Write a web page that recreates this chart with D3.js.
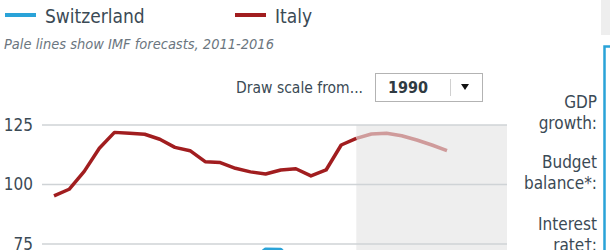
<!DOCTYPE html>
<html>
<head>
<meta charset="utf-8">
<script src="https://cdn.jsdelivr.net/npm/d3@7"></script>
<style>
  body { margin: 0; background: #fff; }
  svg { display: block; }
  text { font-family: "Liberation Sans Narrow", "DejaVu Sans Condensed", "Roboto", sans-serif; fill: #3b4a55; }
</style>
</head>
<body>
<svg id="chart"></svg>
<script>
// years and series (government debt, % of GDP)
var years = d3.range(1990, 2017)
var italy = [95.2, 98.0, 105.5, 115.2, 121.9, 121.5, 121.1, 119.0, 115.6, 114.2, 109.6, 109.2, 106.8, 105.3,
             104.4, 106.1, 106.6, 103.6, 106.1, 116.6, 119.4, 121.2, 121.5, 120.5, 118.7, 116.6, 114.2]
var switzerland = [34, 38, 42, 47, 50, 52, 55, 57, 60, 58, 55, 55, 60, 68,
                   72.8, 72.7, 66, 60, 56, 53, 52, 50, 48, 47, 46, 45, 44]
var lastActual = 2010
var yTicks = [75, 100, 125]
var legendNames = ["Switzerland", "Italy"]
var legendColors = ["#2aa3d8", "#a11d1f"]
var sideLabels = [["GDP", "growth:"], ["Budget", "balance*:"], ["Interest", "rate\u2020:"]]

var dims = {
    width: 610,
    height: 250,
    gridLeft: 42,
    gridRight: 507
}

var svg = d3.select("#chart")
            .attr("width", dims.width)
            .attr("height", dims.height)

var x = d3.scaleLinear()
        .domain([1990, 2016])
        .range([54, 447])

var y = d3.scaleLinear()
        .domain([75, 125])
        .range([244, 125])

//forecast shading
svg.append("rect")
    .attr("x", x(lastActual))
    .attr("y", y(125))
    .attr("width", dims.gridRight - x(lastActual))
    .attr("height", dims.height - y(125) + 20)
    .attr("fill", "#eeeeee")

//gridlines + tick labels
var grid = svg.append("g")
grid.selectAll("line")
    .data(yTicks)
    .enter()
    .append("line")
    .attr("x1", dims.gridLeft)
    .attr("x2", dims.gridRight)
    .attr("y1", d => y(d))
    .attr("y2", d => y(d))
    .attr("stroke", "#cfd3d6")
    .attr("stroke-width", 1.5)

grid.selectAll("text")
    .data(yTicks)
    .enter()
    .append("text")
    .attr("x", 33)
    .attr("y", d => y(d))
    .attr("dy", "0.33em")
    .attr("text-anchor", "end")
    .attr("font-size", 17)
    .text(d => d)

//lines
var rows = years.map((yr, i) => ({year: yr, italy: italy[i], switzerland: switzerland[i]}))
var actual = rows.filter(d => d.year <= lastActual)
var forecast = rows.filter(d => d.year >= lastActual)

function drawSeries(key, color) {
    var line = d3.line().x(d => x(d.year)).y(d => y(d[key]))
    svg.append("path")
        .datum(forecast)
        .attr("d", line)
        .attr("fill", "none")
        .attr("stroke", color)
        .attr("stroke-opacity", 0.4)
        .attr("stroke-width", 3.5)
        .attr("stroke-linejoin", "round")
    svg.append("path")
        .datum(actual)
        .attr("d", line)
        .attr("fill", "none")
        .attr("stroke", color)
        .attr("stroke-width", 3.5)
        .attr("stroke-linejoin", "round")
}
drawSeries("switzerland", legendColors[0])
drawSeries("italy", legendColors[1])

//legend
var legendX = [5, 235]
var legend = svg.append("g")
legendNames.forEach(function(name, i){
    legend.append("line")
        .attr("x1", legendX[i])
        .attr("x2", legendX[i] + 31)
        .attr("y1", 15)
        .attr("y2", 15)
        .attr("stroke", legendColors[i])
        .attr("stroke-width", 4)
    legend.append("text")
        .attr("x", legendX[i] + 40)
        .attr("y", 23)
        .attr("font-size", 19)
        .text(name)
})

svg.append("text")
    .attr("x", 4)
    .attr("y", 49)
    .attr("font-size", 14.5)
    .attr("font-style", "italic")
    .style("fill", "#6b7680")
    .text("Pale lines show IMF forecasts, 2011-2016")

//scale selector
svg.append("text")
    .attr("x", 363)
    .attr("y", 93)
    .attr("text-anchor", "end")
    .attr("font-size", 15.5)
    .text("Draw scale from...")

var sel = svg.append("g")
sel.append("rect")
    .attr("x", 375.5)
    .attr("y", 73.5)
    .attr("width", 107)
    .attr("height", 28)
    .attr("fill", "#fff")
    .attr("stroke", "#b3b3b3")
sel.append("text")
    .attr("x", 388)
    .attr("y", 93)
    .attr("font-size", 16)
    .attr("font-weight", "bold")
    .style("fill", "#2f3a42")
    .text(years[0])
sel.append("line")
    .attr("x1", 450.5).attr("x2", 450.5)
    .attr("y1", 79).attr("y2", 96)
    .attr("stroke", "#d0d0d0")
sel.append("path")
    .attr("d", "M461,84 L469,84 L465,90 Z")
    .attr("fill", "#111")

//right-hand panel
svg.append("rect")
    .attr("x", 601)
    .attr("y", 0)
    .attr("width", 9)
    .attr("height", 35)
    .attr("fill", "#eeeeee")
svg.append("rect")
    .attr("x", 604.5)
    .attr("y", 46.5)
    .attr("width", 20)
    .attr("height", 220)
    .attr("fill", "none")
    .attr("stroke", "#2aa3d8")
    .attr("stroke-width", 2.5)

var sideY = [108, 168, 230]
sideLabels.forEach(function(pair, i){
    pair.forEach(function(t, j){
        svg.append("text")
            .attr("x", 597)
            .attr("y", sideY[i] + j * 21)
            .attr("text-anchor", "end")
            .attr("font-size", 17)
            .text(t)
    })
})
</script>
</body>
</html>
